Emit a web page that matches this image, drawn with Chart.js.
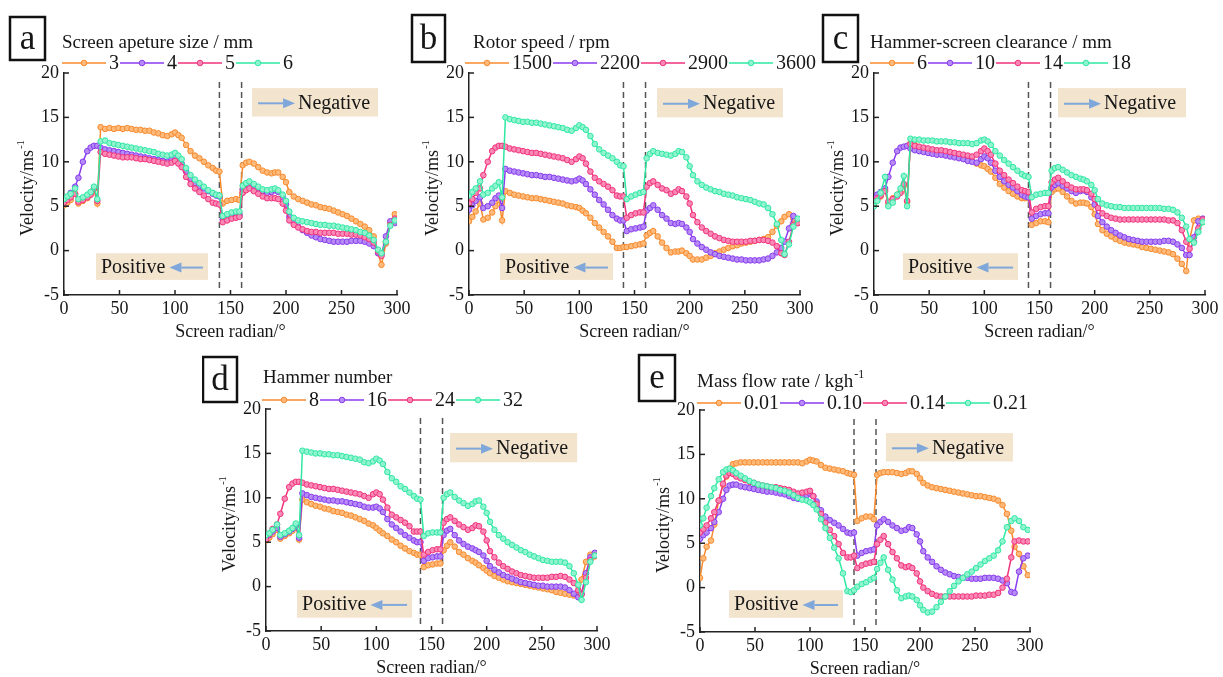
<!DOCTYPE html>
<html><head><meta charset="utf-8">
<script src="https://cdn.jsdelivr.net/npm/chart.js@4.4.1/dist/chart.umd.min.js"></script>
<style>
html,body{margin:0;padding:0;background:#fff;width:1223px;height:677px;overflow:hidden;position:relative}
canvas{position:absolute}
</style></head><body>
<script>
// ---------- DATA ----------
const radian = [0,3,6,10,13,17,21,24,27,30, 33,37,41,45,49,53,57,61,65,69, 73,77,81,85,89,93,97,100,103,106, 110,114,118,122,126,130,134,137,140,143, 147,151,155,158,161,164,167,171,175,179, 183,187,190,193,197,200,203,207,211,215, 219,223,227,231,235,239,243,247,251,255, 259,263,267,271,275,279,283,286,290,294, 298];
const yTicks = [-5,0,5,10,15,20];
const xTicks = [0,50,100,150,200,250,300];

// (a) Screen apeture size / mm
const a_labels = ['3','4','5','6'];
const a_3 = [5.1,5.4,5.7,6.4,5.3,5.6,5.9,6.3,6.9,5.3, 13.9,13.7,13.8,13.7,13.8,13.7,13.8,13.7,13.6,13.6, 13.5,13.5,13.3,13.2,13.0,12.9,13.1,13.3,13.0,12.7, 11.9,11.2,10.7,10.4,10.0,9.6,9.3,9.0,8.9,5.3, 5.6,5.7,5.8,5.7,9.6,9.9,10.0,9.8,9.4,9.0, 8.8,8.7,8.8,8.8,8.3,7.7,6.6,6.1,5.8,5.6, 5.4,5.2,5.1,4.9,4.8,4.7,4.5,4.3,4.1,3.9, 3.6,3.3,3.0,2.7,2.3,1.6,-0.3,-1.6,0.8,3.2, 4.1];
const a_4 = [5.5,6.0,6.5,7.2,8.2,10.0,11.2,11.6,11.8,11.8, 11.6,11.4,11.3,11.2,11.1,11.0,10.9,10.8,10.7,10.6, 10.5,10.4,10.3,10.2,10.1,10.0,10.3,10.5,10.2,9.8, 8.9,8.1,7.6,7.3,7.0,6.7,6.4,6.2,6.1,3.5, 3.8,3.9,4.0,4.0,6.9,7.2,7.4,7.3,7.0,6.7, 6.5,6.6,6.8,6.6,6.0,5.2,3.8,3.1,2.7,2.3, 2.0,1.7,1.5,1.3,1.2,1.1,1.0,1.0,1.0,1.0, 1.1,1.1,1.1,1.0,0.8,0.5,-0.3,-0.4,1.6,3.3, 3.1];
const a_5 = [5.4,5.7,6.0,6.4,5.5,5.7,6.0,6.3,7.0,5.6, 11.1,10.9,10.8,10.7,10.6,10.5,10.5,10.5,10.4,10.3, 10.3,10.2,10.1,10.0,9.9,9.8,9.9,10.1,9.8,9.4, 8.3,7.5,7.0,6.6,6.2,5.8,5.4,5.3,5.2,3.2, 3.4,3.6,3.7,3.8,6.5,6.8,7.0,6.7,6.4,6.1, 5.9,5.9,5.9,5.8,5.3,4.5,3.4,2.9,2.6,2.4, 2.2,2.1,2.1,2.0,2.0,2.0,2.0,1.9,1.9,1.9, 1.8,1.8,1.7,1.5,1.3,0.9,-0.1,-0.6,1.0,2.9, 3.6];
const a_6 = [5.8,6.1,6.4,7.0,5.8,6.0,6.3,6.6,7.2,5.8, 12.3,12.4,12.1,12.0,11.9,11.8,11.7,11.6,11.5,11.4, 11.3,11.2,11.1,10.9,10.8,10.7,10.8,11.0,10.7,10.3, 9.3,8.5,8.0,7.6,7.2,6.8,6.5,6.3,6.2,3.9, 4.1,4.3,4.4,4.4,7.3,7.6,7.8,7.5,7.2,6.9, 6.8,6.9,7.0,6.8,6.3,5.6,4.4,3.7,3.4,3.3, 3.2,3.1,3.0,2.9,2.9,2.8,2.8,2.7,2.6,2.5, 2.4,2.3,2.1,2.0,1.7,1.2,0.1,-0.3,1.0,2.8, 3.4];

// (b) Rotor speed / rpm
const b_labels = ['1500','2200','2900','3600'];
const b_1500 = [3.3,3.8,4.4,5.3,3.5,3.7,4.3,5.0,5.7,3.4, 6.7,6.5,6.3,6.2,6.1,6.0,5.9,5.9,5.8,5.7, 5.6,5.5,5.4,5.3,5.1,5.0,4.9,4.8,4.5,4.2, 3.7,3.1,2.6,2.1,1.6,1.0,0.3,0.3,0.4,0.4, 0.5,0.6,0.7,0.8,1.7,2.0,2.2,1.6,0.9,0.3, -0.2,-0.1,-0.1,0.0,-0.3,-0.6,-1.0,-1.0,-1.0,-0.8, -0.6,-0.3,-0.1,0.1,0.3,0.5,0.6,0.8,0.9,1.0, 1.1,1.2,1.3,1.5,2.1,2.8,3.3,3.8,4.1,3.6, 3.1];
const b_2200 = [4.6,5.1,5.6,6.0,4.8,5.0,5.4,5.9,6.2,4.8, 9.2,9.0,8.9,8.8,8.7,8.6,8.5,8.5,8.4,8.3, 8.3,8.2,8.1,8.0,7.9,7.8,7.9,8.1,7.9,7.5, 6.9,6.3,5.7,5.2,4.6,4.0,3.6,3.4,3.4,2.2, 2.4,2.5,2.6,2.7,4.5,4.8,5.1,4.6,4.0,3.6, 3.1,3.0,3.1,3.0,2.6,2.1,1.3,0.8,0.4,0.1, -0.2,-0.4,-0.6,-0.7,-0.8,-0.9,-1.0,-1.0,-1.1,-1.1, -1.1,-1.1,-1.0,-0.9,-0.6,-0.2,0.3,1.0,2.5,3.9, 3.4];
const b_2900 = [5.3,5.8,6.5,7.0,8.5,10.0,11.2,11.6,11.8,11.8, 11.7,11.5,11.4,11.3,11.2,11.1,11.0,11.0,10.9,10.8, 10.7,10.6,10.5,10.4,10.2,10.0,10.3,10.6,10.4,9.8, 8.9,8.2,7.8,7.5,7.2,6.8,6.2,6.1,6.1,3.7, 4.0,4.2,4.3,4.3,7.2,7.6,7.8,7.4,7.0,6.8, 6.4,6.6,6.9,6.7,6.1,5.3,4.0,3.2,2.6,2.2, 1.9,1.6,1.4,1.2,1.1,1.0,1.0,1.0,1.0,1.1, 1.1,1.2,1.2,1.1,0.9,0.5,-0.3,-0.5,1.0,2.9, 3.1];
const b_3600 = [6.2,6.6,7.0,7.8,6.3,6.5,7.0,7.3,7.7,6.0, 15.0,14.8,14.7,14.6,14.5,14.5,14.4,14.4,14.3,14.2, 14.1,14.0,13.9,13.8,13.6,13.5,13.8,14.1,13.9,13.6, 12.9,12.0,11.4,11.0,10.7,10.4,10.0,9.6,9.5,5.8, 6.1,6.3,6.5,6.6,10.4,10.9,11.2,11.0,10.9,10.8, 10.7,10.9,11.2,11.1,10.5,9.5,8.5,7.8,7.4,7.1, 6.9,6.7,6.6,6.4,6.3,6.2,6.0,5.9,5.8,5.7, 5.5,5.3,5.2,4.8,4.1,3.0,1.2,-0.4,0.7,2.7, 3.6];

// (c) Hammer-screen clearance / mm
const c_labels = ['6','10','14','18'];
const c_6 = [5.3,5.7,6.1,6.8,5.3,5.9,6.3,6.6,7.3,5.5, 12.1,11.9,11.6,11.5,11.4,11.3,11.2,11.1,11.0,10.9, 10.8,10.6,10.5,10.3,10.1,9.8,9.6,9.5,9.2,8.9, 8.2,7.5,7.1,6.7,6.4,6.1,5.9,5.9,5.9,2.9, 3.1,3.3,3.3,3.2,6.6,6.9,7.0,6.6,6.1,5.6, 5.3,5.4,5.4,5.3,4.9,4.1,3.0,2.3,1.9,1.6, 1.3,1.1,0.9,0.8,0.7,0.6,0.4,0.3,0.2,0.1, 0.0,-0.1,-0.2,-0.4,-0.9,-1.5,-2.3,1.2,3.4,3.6, 3.2];
const c_10 = [6.0,6.3,6.6,7.0,8.3,9.9,11.2,11.6,11.7,11.8, 11.5,11.3,11.2,11.1,11.0,10.9,10.8,10.8,10.7,10.6, 10.5,10.4,10.3,10.1,10.0,9.9,10.3,10.6,10.4,9.9, 9.0,8.3,7.8,7.4,7.1,6.7,6.3,6.1,6.0,3.6, 3.9,4.1,4.2,4.2,7.1,7.4,7.6,7.3,7.0,6.7, 6.5,6.7,6.8,6.6,6.0,5.2,3.9,3.2,2.7,2.3, 2.0,1.7,1.5,1.3,1.2,1.1,1.0,1.0,1.0,1.0, 1.0,1.1,1.1,1.0,0.7,0.3,-0.5,-0.5,1.5,3.3, 3.6];
const c_14 = [5.6,5.9,6.2,6.7,5.5,5.8,6.1,6.5,7.5,5.6, 12.0,11.8,11.7,11.6,11.5,11.4,11.3,11.3,11.2,11.1, 11.0,10.9,10.8,10.7,10.6,10.8,11.2,11.5,11.2,10.8, 9.8,9.0,8.5,8.0,7.6,7.2,6.8,6.7,6.6,4.3, 4.7,4.9,5.0,5.0,7.7,8.0,8.2,7.8,7.4,7.1, 6.9,6.9,6.9,6.8,6.4,5.8,4.8,4.2,3.9,3.7, 3.6,3.5,3.5,3.5,3.5,3.5,3.5,3.5,3.5,3.5, 3.5,3.5,3.4,3.4,3.1,2.3,1.0,0.2,1.0,2.5, 3.5];
const c_18 = [5.0,5.6,6.5,8.3,5.0,5.4,6.3,7.0,8.4,5.0, 12.6,12.5,12.5,12.4,12.4,12.4,12.3,12.3,12.3,12.2, 12.2,12.1,12.1,12.1,12.0,12.1,12.4,12.5,12.3,11.9, 11.2,10.7,10.2,9.8,9.4,9.0,8.6,8.4,8.3,6.0, 6.3,6.4,6.5,6.5,9.0,9.3,9.4,9.1,8.8,8.5, 8.3,8.1,8.0,7.8,7.4,6.8,5.8,5.3,5.1,5.0, 4.9,4.9,4.8,4.8,4.8,4.8,4.8,4.8,4.8,4.8, 4.8,4.7,4.7,4.6,4.3,3.7,2.7,1.3,0.9,2.1, 3.2];

// (d) Hammer number
const d_labels = ['8','16','24','32'];
const d_8 = [5.2,5.5,5.9,6.4,5.4,5.7,6.0,6.3,6.8,5.3, 9.8,9.5,9.3,9.1,9.0,8.8,8.7,8.5,8.4,8.3, 8.1,8.0,7.8,7.6,7.4,7.1,6.9,6.6,6.3,6.0, 5.7,5.3,5.0,4.6,4.3,4.0,3.8,3.6,3.6,2.2, 2.4,2.5,2.6,2.6,4.1,4.6,5.0,4.5,3.9,3.6, 3.2,2.9,2.7,2.4,2.1,1.8,1.5,1.2,1.0,0.8, 0.6,0.5,0.4,0.3,0.2,0.1,0.0,-0.1,-0.2,-0.3, -0.4,-0.6,-0.7,-0.8,-0.9,-1.0,-1.0,0.8,2.8,3.6, 3.4];
const d_16 = [5.5,5.8,6.2,6.6,5.6,5.9,6.2,6.5,6.9,5.5, 10.5,10.3,10.1,10.0,9.9,9.8,9.7,9.7,9.6,9.6, 9.5,9.4,9.3,9.2,9.0,8.9,8.9,9.0,8.8,8.4, 7.6,7.0,6.6,6.2,5.8,5.5,5.2,5.0,5.0,2.9, 3.2,3.3,3.4,3.4,5.8,6.3,6.5,5.8,5.2,4.8, 4.5,4.3,4.1,3.9,3.5,2.9,2.3,1.9,1.6,1.3, 1.1,0.9,0.7,0.5,0.4,0.3,0.2,0.1,0.1,0.0, 0.0,0.0,0.0,-0.1,-0.4,-0.8,-1.2,-0.8,1.5,3.3, 3.8];
const d_24 = [5.3,5.9,6.5,7.0,8.2,9.9,11.2,11.6,11.8,11.8, 11.7,11.5,11.4,11.3,11.2,11.1,11.0,11.0,10.9,10.8, 10.7,10.6,10.5,10.4,10.2,10.0,10.4,10.6,10.4,9.8, 8.9,8.1,7.8,7.5,7.2,6.8,6.2,6.2,6.2,3.6, 3.9,4.1,4.2,4.2,7.2,7.6,7.8,7.4,7.0,6.7, 6.4,6.6,6.9,6.8,6.2,5.2,4.0,3.3,2.7,2.3, 2.0,1.7,1.5,1.3,1.2,1.1,1.0,1.0,1.0,1.0, 1.1,1.1,1.2,1.1,0.8,0.4,-0.4,-0.9,1.0,3.0, 3.5];
const d_32 = [5.8,6.0,6.4,7.0,5.8,6.0,6.3,6.6,7.1,5.8, 15.3,15.2,15.1,15.0,15.0,14.9,14.9,14.8,14.8,14.7, 14.6,14.5,14.4,14.3,14.0,13.9,14.1,14.4,14.2,13.8, 12.9,12.2,11.8,11.3,11.0,10.6,10.2,9.9,9.8,5.7, 6.0,6.1,6.1,6.1,10.0,10.4,10.6,10.1,9.7,9.4, 9.1,9.3,9.6,9.7,9.0,8.3,7.3,6.4,5.8,5.4, 5.0,4.7,4.4,4.1,3.9,3.6,3.4,3.2,3.0,2.9, 2.8,2.8,2.8,2.7,2.3,1.5,0.2,-1.5,0.5,2.8, 3.5];

// (e) Mass flow rate / kgh-1
const e_labels = ['0.01','0.10','0.14','0.21'];
const e_001 = [1.1,3.3,4.6,5.3,7.1,9.8,11.6,12.5,13.4,13.9, 14.0,14.1,14.1,14.1,14.1,14.1,14.1,14.1,14.1,14.1, 14.1,14.1,14.1,14.1,14.1,14.0,14.2,14.4,14.3,14.2, 13.8,13.5,13.4,13.3,13.2,13.1,12.9,12.8,12.7,7.5, 7.8,8.0,8.0,7.7,12.7,12.9,13.0,13.0,13.0,12.9, 12.8,12.9,13.1,13.1,12.8,12.3,11.8,11.5,11.3,11.2, 11.1,11.0,10.9,10.8,10.7,10.6,10.5,10.4,10.3,10.3, 10.2,10.1,10.0,9.8,9.3,8.3,6.4,4.6,3.8,2.4, 1.4];
const e_010 = [5.5,5.9,6.2,6.7,7.4,8.5,10.0,11.0,11.5,11.6, 11.6,11.4,11.3,11.2,11.1,11.0,10.9,10.8,10.8,10.7, 10.6,10.5,10.3,10.1,10.0,10.2,10.4,10.6,10.3,9.7, 8.7,8.0,7.6,7.3,7.0,6.6,6.2,6.1,6.2,3.6, 3.9,4.1,4.2,4.3,7.0,7.4,7.7,7.4,7.0,6.7, 6.4,6.5,6.8,6.7,6.0,5.2,4.1,3.4,2.9,2.4, 2.0,1.7,1.5,1.3,1.2,1.1,1.1,1.0,1.0,1.0, 1.1,1.1,1.1,1.0,0.8,0.5,-0.5,-0.6,1.8,3.3, 3.6];
const e_014 = [6.2,6.6,7.0,7.8,8.5,9.8,11.7,12.6,12.9,12.8, 12.5,12.3,12.1,11.9,11.8,11.6,11.5,11.4,11.3,11.3, 11.2,11.1,11.0,10.8,10.6,10.7,10.8,10.9,10.3,9.4, 8.3,7.3,6.5,5.8,4.9,3.9,3.4,3.4,3.6,2.2, 2.5,2.7,2.8,2.9,4.9,5.4,5.8,4.9,4.0,3.3, 2.5,2.3,2.4,2.2,1.6,0.7,0.0,-0.4,-0.7,-0.9, -1.0,-1.0,-1.0,-1.0,-1.0,-1.0,-1.0,-1.0,-0.9,-0.9, -0.9,-0.8,-0.8,-0.6,0.0,1.0,3.4,5.2,5.3,5.2, 5.2];
const e_021 = [7.0,7.8,9.0,10.3,11.2,12.2,13.0,13.3,13.4,13.2, 12.9,12.6,12.3,12.0,11.8,11.6,11.5,11.4,11.3,11.2, 11.0,10.9,10.7,10.4,10.1,9.9,9.8,9.6,9.3,8.8, 7.7,6.7,5.6,4.5,3.3,1.6,-0.4,-0.5,-0.3,0.1, 0.4,0.6,0.9,1.1,2.1,2.8,3.4,2.0,0.9,-0.3, -1.2,-1.0,-0.9,-1.0,-1.4,-2.0,-2.5,-2.8,-2.7,-2.2, -1.6,-1.0,-0.4,0.2,0.7,1.1,1.5,1.8,2.2,2.6, 3.0,3.3,3.6,4.2,5.2,6.8,7.5,7.8,7.5,6.8, 6.5];

// ---------- STYLE / LAYOUT ----------
const FONT = '"Liberation Serif","Times New Roman",serif';
const COLORS = ['#F88A2E','#8A3BEF','#F2327D','#2EE8A2'];
const FILLS  = ['#FDBA7A','#B58BF6','#F88AB5','#92F3D0'];
const BEIGE = '#F3E4CE', ARROW = '#7FA7DA', INK = '#161616';

const panels = [
 {id:'a', title:'Screen apeture size / mm', sup:'', labels:a_labels, series:[a_3,a_4,a_5,a_6],
  area:{L:64,T:73,R:397,B:295}, box:[-54,-56,35,43], tdx:-2, tdy:-25, ldx:-2, ldy:-10,
  neg:[169.4,282.9,18.3,15.1], pos:[28.8,129.7,-0.3,-3.3]},
 {id:'b', title:'Rotor speed / rpm', sup:'', labels:b_labels, series:[b_1500,b_2200,b_2900,b_3600],
  area:{L:469,T:73,R:800,B:295}, box:[-57,-58,33,47], tdx:4, tdy:-25, ldx:-4, ldy:-10,
  neg:[170.4,284.6,18.3,15.0], pos:[28.1,130.5,-0.3,-3.3]},
 {id:'c', title:'Hammer-screen clearance / mm', sup:'', labels:c_labels, series:[c_6,c_10,c_14,c_18],
  area:{L:874,T:73,R:1205,B:295}, box:[-51,-58,35,47], tdx:-4, tdy:-25, ldx:-4, ldy:-10,
  neg:[166.8,282.8,18.3,15.0], pos:[26.3,130.5,-0.3,-3.3]},
 {id:'d', title:'Hammer number', sup:'', labels:d_labels, series:[d_8,d_16,d_24,d_32],
  area:{L:266,T:409,R:597,B:631}, box:[-63,-52,34,45], tdx:-3, tdy:-26, ldx:-4, ldy:-9,
  neg:[166.8,282.0,17.3,14.0], pos:[28.1,132.4,-0.4,-3.5]},
 {id:'e', title:'Mass flow rate / kgh', sup:'-1', labels:e_labels, series:[e_001,e_010,e_014,e_021],
  area:{L:700,T:410,R:1030,B:632}, box:[-61,-55,36,46], tdx:-3, tdy:-23, ldx:-3, ldy:-7,
  neg:[169.0,284.5,17.4,14.2], pos:[26.4,130.0,-0.3,-3.4]}
];

function arrow(ctx, from, to, y){
  const dir = Math.sign(to - from), head = 12;
  ctx.save();
  ctx.strokeStyle = ARROW; ctx.fillStyle = ARROW; ctx.lineWidth = 2;
  ctx.beginPath(); ctx.moveTo(from, y); ctx.lineTo(to - dir*head, y); ctx.stroke();
  ctx.beginPath(); ctx.moveTo(to, y); ctx.lineTo(to - dir*head, y - 5); ctx.lineTo(to - dir*head, y + 5); ctx.closePath(); ctx.fill();
  ctx.restore();
}
function annot(ctx, xs, ys, r, kind){
  const X0 = xs.getPixelForValue(r[0]), X1 = xs.getPixelForValue(r[1]);
  const Y0 = ys.getPixelForValue(r[2]), Y1 = ys.getPixelForValue(r[3]);
  ctx.fillStyle = BEIGE; ctx.fillRect(X0, Y0, X1 - X0, Y1 - Y0);
  const cy = (Y0 + Y1)/2 + 1;
  ctx.font = '20px ' + FONT; ctx.textBaseline = 'middle'; ctx.textAlign = 'left';
  if (kind === 'neg') {
    const a0 = X0 + 6, a1 = a0 + 37;
    arrow(ctx, a0, a1, cy);
    ctx.fillStyle = INK; ctx.fillText('Negative', a1 + 3, cy);
  } else {
    ctx.fillStyle = INK; ctx.fillText('Positive', X0 + 5, cy);
    const tw = ctx.measureText('Positive').width;
    arrow(ctx, X1 - 5, X0 + 5 + tw + 4, cy);
  }
}
function decor(p){
  return {
    id: 'decor_' + p.id,
    beforeDatasetsDraw(chart){
      const ctx = chart.ctx, xs = chart.scales.x, ys = chart.scales.y;
      ctx.save();
      annot(ctx, xs, ys, p.neg, 'neg');
      annot(ctx, xs, ys, p.pos, 'pos');
      ctx.strokeStyle = '#555'; ctx.lineWidth = 1.5; ctx.setLineDash([6,4]);
      [140,160].forEach(v => {
        const px = xs.getPixelForValue(v);
        ctx.beginPath(); ctx.moveTo(px, ys.getPixelForValue(19)); ctx.lineTo(px, ys.getPixelForValue(-4.2)); ctx.stroke();
      });
      ctx.restore();
    },
    afterDraw(chart){
      const ctx = chart.ctx, xs = chart.scales.x, ys = chart.scales.y, ca = chart.chartArea;
      ctx.save();
      // inner ticks
      ctx.strokeStyle = '#222'; ctx.lineWidth = 1.5;
      yTicks.forEach(v => { const py = ys.getPixelForValue(v); ctx.beginPath(); ctx.moveTo(ca.left, py); ctx.lineTo(ca.left + 5, py); ctx.stroke(); });
      xTicks.forEach(v => { const px = xs.getPixelForValue(v); ctx.beginPath(); ctx.moveTo(px, ca.bottom); ctx.lineTo(px, ca.bottom - 5); ctx.stroke(); });
      // panel letter box
      const [bx, by, bw, bh] = p.box;
      ctx.lineWidth = 2.5; ctx.strokeStyle = '#111';
      ctx.strokeRect(ca.left + bx, ca.top + by, bw, bh);
      ctx.fillStyle = INK; ctx.font = '35px ' + FONT; ctx.textAlign = 'center'; ctx.textBaseline = 'middle';
      ctx.fillText(p.id, ca.left + bx + bw/2, ca.top + by + bh/2 + 1);
      // title
      ctx.textAlign = 'left'; ctx.textBaseline = 'alphabetic'; ctx.font = '19px ' + FONT;
      const tx = ca.left + p.tdx, ty = ca.top + p.tdy;
      ctx.fillText(p.title, tx, ty);
      if (p.sup) { const w = ctx.measureText(p.title).width; ctx.font = '12px ' + FONT; ctx.fillText(p.sup, tx + w + 1, ty - 9); }
      // legend
      let lx = ca.left + p.ldx; const ly = ca.top + p.ldy;
      ctx.font = '20px ' + FONT; ctx.textBaseline = 'middle';
      p.labels.forEach((lab, i) => {
        ctx.strokeStyle = COLORS[i]; ctx.lineWidth = 1.6;
        ctx.beginPath(); ctx.moveTo(lx, ly); ctx.lineTo(lx + 44, ly); ctx.stroke();
        ctx.beginPath(); ctx.arc(lx + 22, ly, 2.8, 0, Math.PI*2); ctx.fillStyle = FILLS[i]; ctx.fill(); ctx.lineWidth = 1; ctx.stroke();
        lx += 47;
        ctx.fillStyle = INK; ctx.fillText(lab, lx, ly + 1);
        lx += ctx.measureText(lab).width + 1;
      });
      // y axis title
      ctx.save();
      ctx.translate(ca.left - 36, (ca.top + ca.bottom)/2 + 4);
      ctx.rotate(-Math.PI/2);
      ctx.font = '18px ' + FONT;
      const main = 'Velocity/ms', w1 = ctx.measureText(main).width;
      ctx.font = '11px ' + FONT; const w2 = ctx.measureText('-1').width;
      const sx = -(w1 + w2 + 1)/2;
      ctx.font = '18px ' + FONT; ctx.textAlign = 'left'; ctx.textBaseline = 'middle'; ctx.fillStyle = INK;
      ctx.fillText(main, sx, 0);
      ctx.font = '11px ' + FONT; ctx.fillText('-1', sx + w1 + 1, -7);
      ctx.restore();
      // x axis title
      ctx.font = '18px ' + FONT; ctx.textAlign = 'center'; ctx.textBaseline = 'alphabetic'; ctx.fillStyle = INK;
      ctx.fillText('Screen radian/°', (ca.left + ca.right)/2, ca.bottom + 42);
      ctx.restore();
    }
  };
}

Chart.defaults.font.family = FONT;
panels.forEach(p => {
  const {L, T, R, B} = p.area;
  const W = R - L + 64 + 18, H = B - T + 73 + 46;
  const cv = document.createElement('canvas');
  cv.width = W; cv.height = H;
  cv.style.left = (L - 64) + 'px'; cv.style.top = (T - 73) + 'px';
  cv.style.width = W + 'px'; cv.style.height = H + 'px';
  document.body.appendChild(cv);
  new Chart(cv, {
    type: 'line',
    data: {
      datasets: p.series.map((s, i) => ({
        label: p.labels[i],
        data: radian.map((x, k) => ({x: x, y: s[k]})),
        borderColor: COLORS[i], backgroundColor: FILLS[i],
        pointBackgroundColor: FILLS[i], pointBorderColor: COLORS[i],
        borderWidth: 1.5, pointRadius: 2.8, pointBorderWidth: 1,
        tension: 0, fill: false, order: 3 - i
      }))
    },
    options: {
      responsive: false, animation: false, devicePixelRatio: 1,
      layout: {padding: {left: 0, right: 18, top: 73, bottom: 0}},
      plugins: {legend: {display: false}, tooltip: {enabled: false}},
      scales: {
        x: {type: 'linear', min: 0, max: 300,
            ticks: {stepSize: 50, color: INK, font: {family: FONT, size: 18}, padding: 3, maxRotation: 0, autoSkip: false},
            grid: {display: false, drawTicks: false},
            border: {display: true, color: '#222', width: 1.5},
            afterFit: s => { s.height = 46; }},
        y: {min: -5, max: 20,
            ticks: {stepSize: 5, color: INK, font: {family: FONT, size: 18}, padding: 5, autoSkip: false},
            grid: {display: false, drawTicks: false},
            border: {display: true, color: '#222', width: 1.5},
            afterFit: s => { s.width = 64; }}
      }
    },
    plugins: [decor(p)]
  });
});
</script>
</body></html>
